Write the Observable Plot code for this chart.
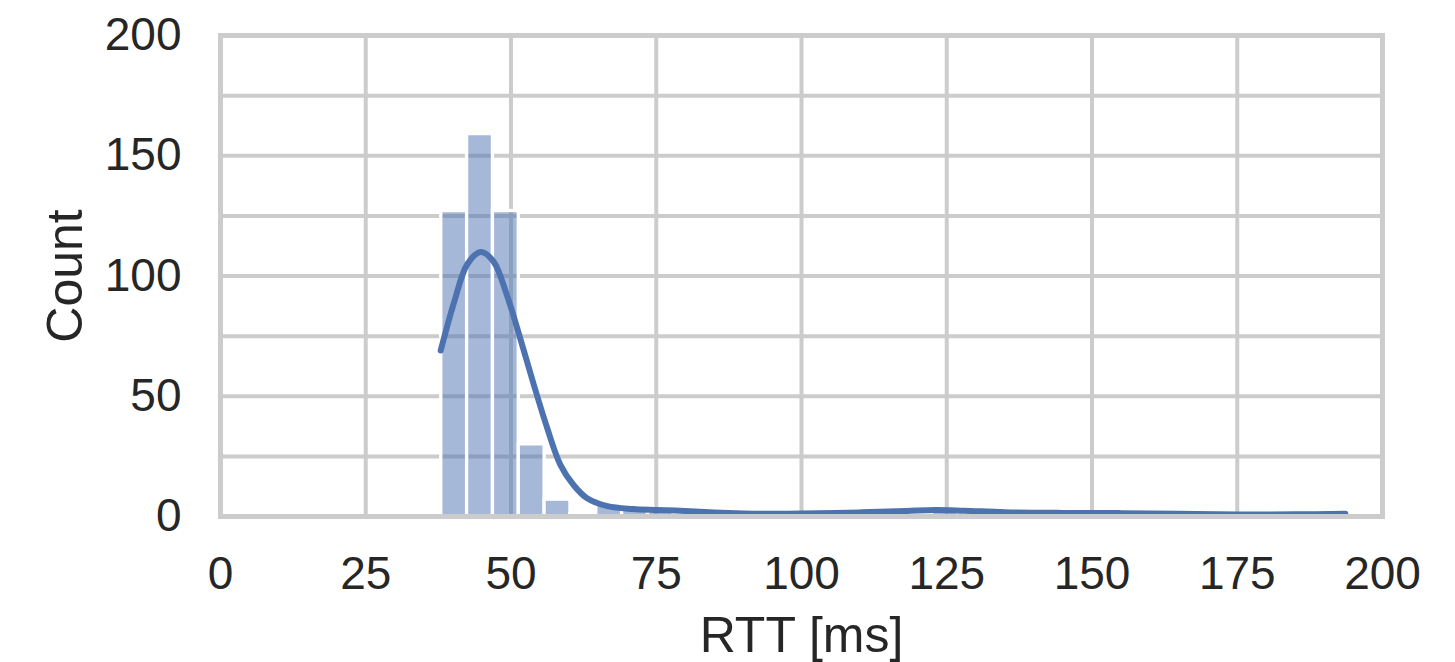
<!DOCTYPE html>
<html>
<head>
<meta charset="utf-8">
<script src="https://cdn.jsdelivr.net/npm/d3@7"></script>
<script src="https://cdn.jsdelivr.net/npm/@observablehq/plot@0.6"></script>
<style>
  html, body { margin: 0; padding: 0; background: #fff; }
  #chart { width: 1455px; height: 662px; }
  svg { font-family: "Liberation Sans", Arial, sans-serif; }
</style>
</head>
<body>
<div id="chart"></div>
<script>
// Histogram: 35 bins from 38.0 ms, width 4.446 ms
const binStart = 38.0;
const binWidth = 4.446;
const binCounts = [127, 159, 127, 30, 7, 1, 5, 3, 2, 1, 1, 0, 0, 0, 0, 0, 0, 0, 1, 2, 1, 0, 0, 0, 0, 1, 1, 0, 0, 0, 0, 0, 0, 0, 1];

// KDE curve (count scale)
const kdeX = [37.9, 40.2, 42.5, 44.8, 47.0, 49.3, 51.6, 53.9, 56.2, 58.5, 60.8, 63.1, 66.6, 71, 75, 80, 85, 90, 95, 100, 110, 118, 123, 128, 135, 145, 155, 165, 175, 185, 193.6];
const kdeY = [69, 89, 105, 110, 106, 92, 74, 55, 37, 21.5, 13, 7.6, 4.3, 3.1, 2.7, 2.3, 1.7, 1.3, 1.1, 1.2, 1.7, 2.3, 2.7, 2.4, 1.8, 1.5, 1.4, 1.1, 0.8, 0.9, 1.1];

const xTicks = [0, 25, 50, 75, 100, 125, 150, 175, 200];
const yTicks = [0, 50, 100, 150, 200];
const yGrid = [0, 25, 50, 75, 100, 125, 150, 175, 200];

const bins = binCounts
  .map((c, i) => ({x1: binStart + i * binWidth, x2: binStart + (i + 1) * binWidth, count: c}))
  .filter(d => d.count > 0);
const kde = kdeX.map((x, i) => ({x, y: kdeY[i]}));

const blue = "#4c72b0";
const gridColor = "#cccccc";

const chart = Plot.plot({
  width: 1455,
  height: 662,
  marginLeft: 220,
  marginRight: 73,
  marginTop: 35,
  marginBottom: 146,
  style: {color: "#262626", background: "white", fontFamily: "'Liberation Sans', Arial, sans-serif"},
  x: {domain: [0, 200]},
  y: {domain: [0, 200]},
  marks: [
    Plot.ruleX(xTicks, {stroke: gridColor, strokeWidth: 4}),
    Plot.ruleY(yGrid, {stroke: gridColor, strokeWidth: 4}),
    Plot.rectY(bins, {x1: "x1", x2: "x2", y: "count", fill: blue, fillOpacity: 0.5, stroke: "white", strokeWidth: 3.3}),
    Plot.line(kde, {x: "x", y: "y", stroke: blue, strokeWidth: 6, curve: "catmull-rom"}),
    Plot.frame({stroke: gridColor, strokeWidth: 5}),
    Plot.axisX({ticks: xTicks, tickSize: 0, tickPadding: 40, fontSize: 46, label: null}),
    Plot.axisY({ticks: yTicks, tickSize: 0, tickPadding: 39, fontSize: 46, label: null}),
    Plot.text(["RTT [ms]"], {frameAnchor: "bottom", dy: 135, fontSize: 50, textAnchor: "middle", lineAnchor: "bottom", fill: "#262626"}),
    Plot.text(["Count"], {frameAnchor: "left", dx: -139, rotate: -90, fontSize: 50, textAnchor: "middle", lineAnchor: "bottom", fill: "#262626"})
  ]
});
document.getElementById("chart").appendChild(chart);
</script>
</body>
</html>
